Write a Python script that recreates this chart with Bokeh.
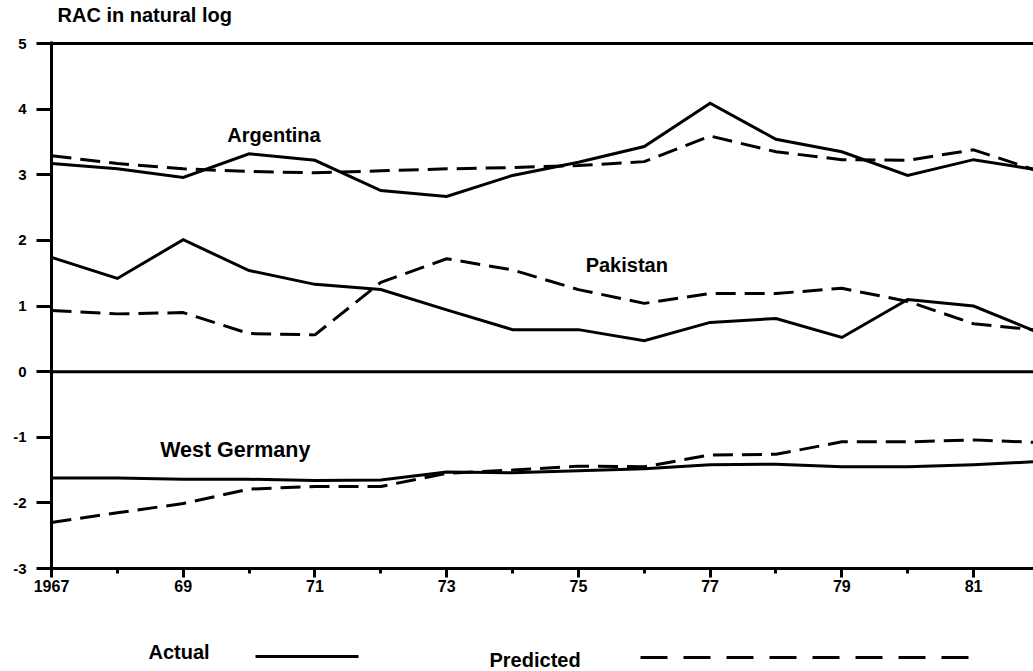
from bokeh.plotting import figure
from bokeh.models import Range1d, FixedTicker, Span, ColumnDataSource
from bokeh.layouts import column
from bokeh.core.properties import value
from bokeh.embed import file_html
from bokeh.resources import INLINE

# --- data -------------------------------------------------------------------
years = list(range(1967, 1983))

argentina_actual = [3.17, 3.09, 2.96, 3.32, 3.22, 2.76, 2.67, 2.99, 3.19, 3.43,
                    4.09, 3.54, 3.35, 2.99, 3.23, 3.07]
argentina_predicted = [3.29, 3.17, 3.09, 3.05, 3.03, 3.06, 3.09, 3.11, 3.14, 3.20,
                       3.59, 3.35, 3.23, 3.22, 3.38, 3.05]

pakistan_actual = [1.74, 1.42, 2.01, 1.54, 1.33, 1.25, 0.94, 0.64, 0.64, 0.47,
                   0.75, 0.81, 0.52, 1.10, 1.00, 0.59]
pakistan_predicted = [0.93, 0.88, 0.90, 0.58, 0.56, 1.36, 1.72, 1.55, 1.25, 1.04,
                      1.19, 1.19, 1.27, 1.07, 0.73, 0.63]

germany_actual = [-1.62, -1.62, -1.64, -1.64, -1.66, -1.65, -1.53, -1.54, -1.51, -1.48,
                  -1.42, -1.41, -1.45, -1.45, -1.42, -1.37]
germany_predicted = [-2.30, -2.15, -2.01, -1.79, -1.75, -1.75, -1.55, -1.50, -1.44, -1.45,
                     -1.27, -1.26, -1.07, -1.07, -1.04, -1.08]

country_names = ["Argentina", "Pakistan", "West Germany"]
label_years = [1969.67, 1975.11, 1968.65]
label_values = [3.61, 1.63, -1.20]
label_sizes = ["20px", "20px", "21.5px"]

y_ticks = [-3, -2, -1, 0, 1, 2, 3, 4, 5]
y_tick_labels = {-3: "-3", -2: "-2", -1: "-1", 0: "0", 1: "1", 2: "2",
                 3: "3", 4: "4", 5: "5"}
x_major = [1967, 1969, 1971, 1973, 1975, 1977, 1979, 1981]
x_minor = [1968, 1970, 1972, 1974, 1976, 1978, 1980]
x_tick_labels = {1967: "1967", 1969: "69", 1971: "71", 1973: "73",
                 1975: "75", 1977: "77", 1979: "79", 1981: "81"}

y_title = "RAC in natural log"
legend_labels = ["Actual", "Predicted"]

FONT = "Liberation Sans"
INK = "#000000"
LW = 3
DASH = "20 9"
W = 1033
FRAME_LEFT = 51               # left edge of every plot frame in the column


def blank(height):
    """A bare strip whose data coordinates are page pixels (y downwards)."""
    f = figure(width=W, height=height,
               x_range=Range1d(FRAME_LEFT, W), y_range=Range1d(height, 0),
               output_backend="svg", toolbar_location=None, min_border=0,
               min_border_left=FRAME_LEFT)
    f.axis.visible = False
    f.xgrid.visible = False
    f.ygrid.visible = False
    f.outline_line_color = None
    f.background_fill_color = "white"
    f.border_fill_color = "white"
    return f


def words(f, xs, ys, texts):
    f.text(x=xs, y=ys, text=texts,
           text_font=value(FONT), text_font_style="bold", text_font_size="20px",
           text_color=INK, text_align="left", text_baseline="middle")


# --- heading strip ----------------------------------------------------------
head = blank(32)
words(head, [57], [14], [y_title])

# --- main chart -------------------------------------------------------------
TOP_PAD = 2 / 65.625          # keeps the line at 5 fully inside the frame
p = figure(width=W, height=576,
           x_range=Range1d(1967, 1981.91), y_range=Range1d(-3, 5 + TOP_PAD),
           output_backend="svg", toolbar_location=None,
           min_border_left=FRAME_LEFT, min_border_right=0,
           min_border_top=9, min_border_bottom=40)
p.outline_line_color = None
p.xgrid.visible = False
p.ygrid.visible = False
p.background_fill_color = "white"
p.border_fill_color = "white"

# y axis
ya = p.yaxis[0]
ya.ticker = FixedTicker(ticks=y_ticks)
ya.major_label_overrides = y_tick_labels
ya.axis_line_width = LW
ya.axis_line_color = INK
ya.major_tick_line_width = LW
ya.major_tick_line_color = INK
ya.major_tick_out = 15
ya.major_tick_in = 0
ya.minor_tick_line_color = None
ya.major_label_standoff = 10
ya.major_label_text_font = FONT
ya.major_label_text_font_style = "bold"
ya.major_label_text_font_size = "15px"
ya.major_label_text_color = INK

# x axis
xa = p.xaxis[0]
xa.ticker = FixedTicker(ticks=x_major, minor_ticks=x_minor)
xa.major_label_overrides = x_tick_labels
xa.axis_line_width = LW
xa.axis_line_color = INK
xa.major_tick_line_width = LW
xa.major_tick_line_color = INK
xa.major_tick_out = 9
xa.major_tick_in = 0
xa.minor_tick_line_width = LW
xa.minor_tick_line_color = INK
xa.minor_tick_out = 5
xa.minor_tick_in = 0
xa.major_label_standoff = 2
xa.major_label_text_font = FONT
xa.major_label_text_font_style = "bold"
xa.major_label_text_font_size = "16px"
xa.major_label_text_color = INK

# reference lines at 0 and at the top of the scale
for loc in (0, 5):
    p.add_layout(Span(location=loc, dimension="width",
                      line_color=INK, line_width=LW))

series = [
    (argentina_actual, argentina_predicted),
    (pakistan_actual, pakistan_predicted),
    (germany_actual, germany_predicted),
]
for actual, predicted in series:
    p.line(years, actual, line_color=INK, line_width=LW, line_join="miter")
    p.line(years, predicted, line_color=INK, line_width=LW, line_dash=DASH)

labels_src = ColumnDataSource(dict(x=label_years, y=label_values,
                                   text=country_names, size=label_sizes))
p.text(x="x", y="y", text="text", source=labels_src,
       text_font=value(FONT), text_font_style="bold", text_font_size="size",
       text_color=INK, text_align="left", text_baseline="middle")

# --- legend strip -----------------------------------------------------------
leg = blank(63)
words(leg, [148, 489], [43, 51], legend_labels)
leg.line([255, 358], [48, 48], line_color=INK, line_width=3)
leg.line([640, 970], [49, 49], line_color=INK, line_width=3, line_dash="27 16")

layout = column(head, p, leg, spacing=0)

with open("out.html", "w") as f:
    f.write(file_html(layout, INLINE))
